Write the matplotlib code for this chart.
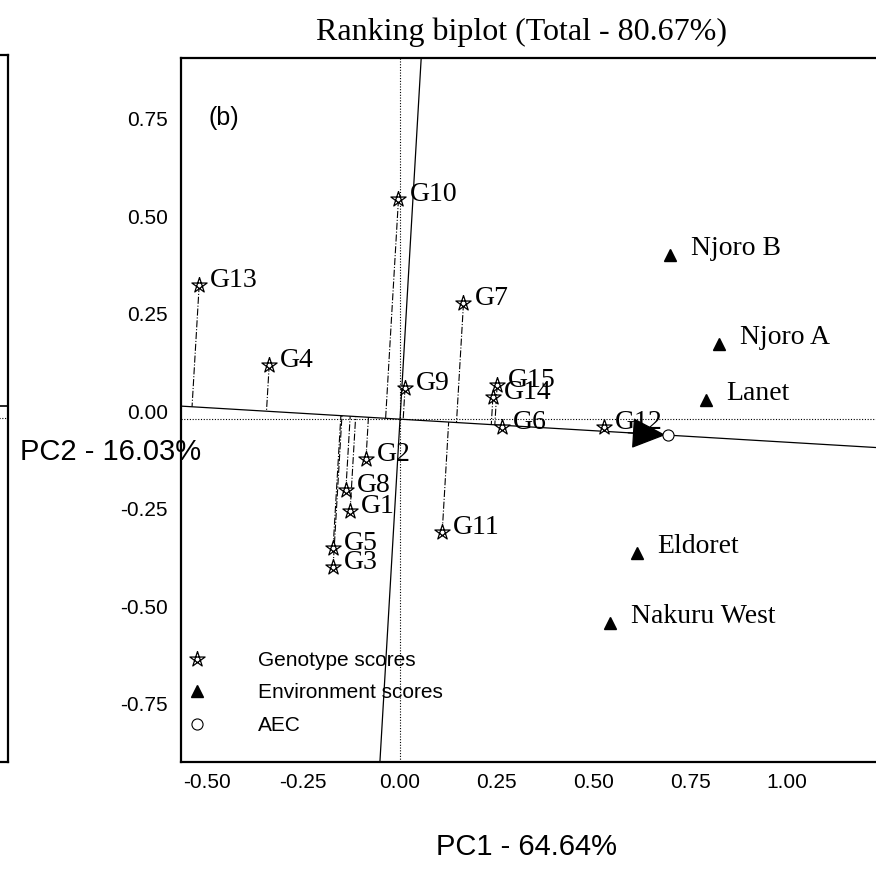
import numpy as np
import matplotlib
matplotlib.use("Agg")
import matplotlib.pyplot as plt
from matplotlib.path import Path
from matplotlib.lines import Line2D
from matplotlib.patches import FancyArrowPatch
from matplotlib.transforms import ScaledTranslation

# genotype scores (PC1, PC2)
genotypes = ["G1", "G2", "G3", "G4", "G5", "G6", "G7", "G8", "G9", "G10",
             "G11", "G12", "G13", "G14", "G15"]
g_pc1 = [-0.129, -0.088, -0.173, -0.338, -0.173, 0.264, 0.164, -0.140, 0.013, -0.004,
         0.109, 0.527, -0.519, 0.240, 0.251]
g_pc2 = [-0.236, -0.103, -0.379, 0.140, -0.331, -0.021, 0.297, -0.182, 0.081, 0.564,
         -0.290, -0.020, 0.344, 0.056, 0.087]

# environment scores
environments = ["Njoro B", "Njoro A", "Lanet", "Eldoret", "Nakuru West"]
e_pc1 = [0.698, 0.824, 0.790, 0.612, 0.543]
e_pc2 = [0.421, 0.192, 0.049, -0.344, -0.523]

x_ticks = [-0.50, -0.25, 0.00, 0.25, 0.50, 0.75, 1.00]
y_ticks = [-0.75, -0.50, -0.25, 0.00, 0.25, 0.50, 0.75]
xlim = (-0.566, 1.305)
ylim = (-0.879, 0.926)

serif = "Liberation Serif"
sans = "Liberation Sans"

# pentagram marker (star with inner lines)
ang = np.deg2rad(90 + 144 * np.arange(6))
star = Path(np.column_stack([np.cos(ang), np.sin(ang)]))

W, H = 876, 875
fig = plt.figure(figsize=(W / 100, H / 100), dpi=100)

# main axes (right side runs off the picture)
ax = fig.add_axes([181 / W, (H - 762) / H, (905 - 181) / W, (762 - 58) / H])
ax.set_xlim(*xlim)
ax.set_ylim(*ylim)

# partial left panel
ax0 = fig.add_axes([-0.3, (H - 762) / H, 0.3 + 8 / W, (762 - 55) / H])
ax0.set_xticks([])
ax0.set_yticks([])
ax0.set_ylim(*ylim)
ax0.axhline(0, color="k", lw=0.8, ls=(0, (1, 1.5)))
ax0.axhline(0.03, color="k", lw=1.2)
for s in ax0.spines.values():
    s.set_linewidth(1.6)

for s in ax.spines.values():
    s.set_linewidth(1.6)
ax.spines["right"].set_visible(False)

ax.set_xticks(x_ticks)
ax.set_yticks(y_ticks)
ax.set_xticklabels([f"{v:.2f}" for v in x_ticks], fontfamily=sans, fontsize=15)
ax.set_yticklabels([f"{v:.2f}" for v in y_ticks], fontfamily=sans, fontsize=15)
ax.tick_params(length=0, pad=8)
ax.tick_params(axis="y", pad=9.5)
for lab in ax.get_yticklabels():
    lab.set_transform(lab.get_transform() + ScaledTranslation(0, 8 / 100, fig.dpi_scale_trans))

# reference dotted axes through origin
ax.axhline(0, color="k", lw=0.8, ls=(0, (1, 1.5)))
ax.axvline(0, color="k", lw=0.8, ls=(0, (1, 1.5)))

# average environment coordinate and its axes
aec = np.array([np.mean(e_pc1), np.mean(e_pc2)])
d = aec / np.linalg.norm(aec)
p = np.array([-d[1], d[0]])
t = np.array([-3, 3])
ax.plot(t * d[0], t * d[1], color="k", lw=0.9)
ax.plot(t * p[0], t * p[1], color="k", lw=0.9)

# projections of genotypes onto AEC abscissa
for x, y in zip(g_pc1, g_pc2):
    proj = (x * d[0] + y * d[1]) * d
    ax.plot([x, proj[0]], [y, proj[1]], color="k", lw=0.8, ls="-.")

arrow = FancyArrowPatch(posA=tuple(0.85 * aec), posB=tuple(aec),
                        arrowstyle="-|>,head_length=2.2,head_width=1.0",
                        mutation_scale=10, color="k", lw=0.9, shrinkA=0, shrinkB=2)
ax.add_patch(arrow)

ax.plot(g_pc1, g_pc2, ls="none", marker=star, ms=11.5, mfc="white", mec="k", mew=0.9)
ax.plot(e_pc1, e_pc2, ls="none", marker="^", ms=9, color="k")
ax.plot(aec[0], aec[1], ls="none", marker="o", ms=8, mfc="white", mec="k", mew=0.8)

for name, x, y in zip(genotypes, g_pc1, g_pc2):
    ax.annotate(name, (x, y), xytext=(8, -1.5), textcoords="offset points",
                ha="left", va="baseline", fontfamily=serif, fontsize=20)
for name, x, y in zip(environments, e_pc1, e_pc2):
    ax.annotate(name, (x, y), xytext=(15, 0), textcoords="offset points",
                ha="left", va="baseline", fontfamily=serif, fontsize=20)

ax.text(27 / 724, 1 - 48 / 704, "(b)", transform=ax.transAxes, ha="left", va="top",
        fontfamily=sans, fontsize=18)

handles = [
    Line2D([], [], ls="none", marker=star, ms=11.5, mfc="white", mec="k", mew=0.9),
    Line2D([], [], ls="none", marker="^", ms=9, color="k"),
    Line2D([], [], ls="none", marker="o", ms=8, mfc="white", mec="k", mew=0.8),
]
ax.legend(handles, ["Genotype scores", "Environment scores", "AEC"],
          loc="lower left", bbox_to_anchor=(8 / 724, 27 / 704), frameon=False,
          borderaxespad=0, borderpad=0, handlelength=0.8, handletextpad=2.5,
          labelspacing=0.65, prop={"family": sans, "size": 15})

fig.text(521 / W, 1 - 32 / H, "Ranking biplot (Total - 80.67%)", ha="center", va="center",
         fontfamily=serif, fontsize=23)
fig.text(111 / W, 1 - 452 / H, "PC2 - 16.03%", ha="center", va="center",
         fontfamily=sans, fontsize=21)
fig.text(527 / W, 1 - 847 / H, "PC1 - 64.64%", ha="center", va="center",
         fontfamily=sans, fontsize=21)

fig.savefig("out.png", dpi=100)
